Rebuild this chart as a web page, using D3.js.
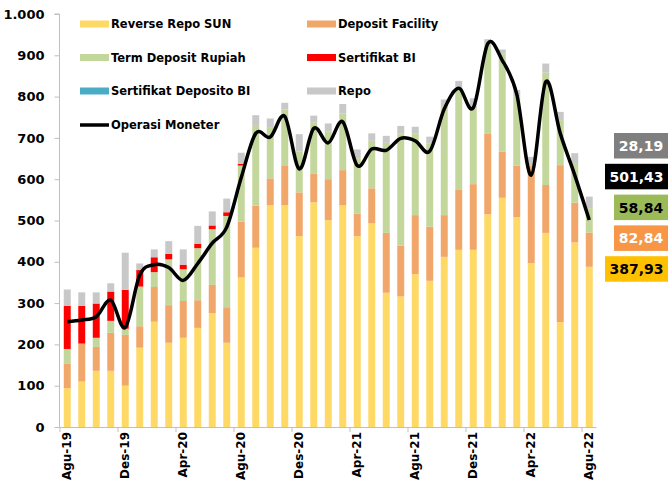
<!DOCTYPE html>
<html>
<head>
<meta charset="utf-8">
<script src="https://cdn.jsdelivr.net/npm/d3@7"></script>
<style>
  body { margin: 0; background: #fff; }
  svg text { font-family: 'DejaVu Sans', sans-serif; font-weight: bold; fill: #000; }
</style>
</head>
<body>
<svg id="chart" width="669" height="485"></svg>
<script>
// months Agu-19 .. Agu-22
const months = ['Agu-19','Sep-19','Okt-19','Nov-19','Des-19','Jan-20','Feb-20','Mar-20','Apr-20','Mei-20','Jun-20','Jul-20',
  'Agu-20','Sep-20','Okt-20','Nov-20','Des-20','Jan-21','Feb-21','Mar-21','Apr-21','Mei-21','Jun-21','Jul-21',
  'Agu-21','Sep-21','Okt-21','Nov-21','Des-21','Jan-22','Feb-22','Mar-22','Apr-22','Mei-22','Jun-22','Jul-22','Agu-22'];

const reverseRepoSUN = [94,110,136,136,100,192,255,204,216,240,276,204,362,434,537,537,462,544,501,537,462,493,325,316,
  370,354,412,429,429,515,555,508,397,470,254,447,387.93];
const depositFacility = [60,92,58,92,123,52,84,91,89,67,68,86,135,102,65,95,106,69,99,85,55,85,145,123,
  143,131,101,145,159,196,112,125,235,116,380,96,82.84];
const termDepositRupiah = [35,0,22,29,15,96,36,111,77,126,135,221,136,195,124,137,99,125,115,137,134,115,218,272,
  198,202,264,248,184,216,238,168,2,272,109,94,58.84];
const sertifikatBI = [104,91,83,71,94,40,36,13,11,11,9,9,4,0,0,0,0,0,0,0,0,0,0,0,
  0,0,0,0,0,0,0,0,0,0,0,0,0];
const sertifikatDepositoBI = [0,0,0,0,0,0,0,0,0,0,0,0,0,0,0,0,0,0,0,0,0,0,0,0,
  0,0,0,0,0,0,0,0,0,0,0,0,0];
const repo = [40,33,27,20,90,16,19,31,37,43,34,33,27,24,21,16,42,16,20,23,21,18,17,18,
  16,16,16,16,24,12,9,15,20,22,20,26,28.19];
const operasiMoneter = [255,259,267,307,241,368,393,386,355,396,445,484,604,711,702,752,625,723,688,739,633,673,670,699,
  693,668,770,820,773,928,888,806,610,836,711,610,501.43];

const yTicks = [0,100,200,300,400,500,600,700,800,900,1000];
const xTickLabels = ['Agu-19','Des-19','Apr-20','Agu-20','Des-20','Apr-21','Agu-21','Des-21','Apr-22','Agu-22'];

const series = [
  { key: 'rr', name: 'Reverse Repo SUN', values: reverseRepoSUN, color: '#ffd966' },
  { key: 'df', name: 'Deposit Facility', values: depositFacility, color: '#f1a66a' },
  { key: 'td', name: 'Term Deposit Rupiah', values: termDepositRupiah, color: '#c3d69b' },
  { key: 'sbi', name: 'Sertifikat BI', values: sertifikatBI, color: '#ff0000' },
  { key: 'sdbi', name: 'Sertifikat Deposito BI', values: sertifikatDepositoBI, color: '#4bacc6' },
  { key: 'repo', name: 'Repo', values: repo, color: '#c8c8c8' }
];

const svg = d3.select('#chart');
const plotL = 59.5, plotR = 596.5, plotT = 14, plotB = 427;

const rows = months.map((m, i) => {
  const r = { month: m };
  series.forEach(s => { r[s.key] = s.values[i]; });
  return r;
});

const x = d3.scaleBand().domain(months).range([plotL + 0.5, plotR]).paddingInner(0.52).paddingOuter(0.26);
const y = d3.scaleLinear().domain([0, 1000]).range([plotB, plotT]);
const stack = d3.stack().keys(series.map(s => s.key))(rows);
const colorOf = d3.scaleOrdinal().domain(series.map(s => s.key)).range(series.map(s => s.color));

// bars
svg.append('g').selectAll('g').data(stack).join('g')
  .attr('fill', d => colorOf(d.key))
  .selectAll('rect').data(d => d).join('rect')
  .attr('x', d => x(d.data.month))
  .attr('width', x.bandwidth())
  .attr('y', d => y(d[1]))
  .attr('height', d => Math.max(0, y(d[0]) - y(d[1])));

// y axis
const yAxis = svg.append('g').attr('transform', `translate(${plotL},0)`)
  .call(d3.axisLeft(y).tickValues(yTicks).tickSize(5).tickPadding(10)
    .tickFormat(d => d3.format(',')(d).replace(',', '.')));
yAxis.select('.domain').attr('stroke', '#bfbfbf').attr('d', `M-5,${plotT}H0V${plotB}`);
yAxis.selectAll('.tick line').attr('stroke', '#bfbfbf');
yAxis.selectAll('.tick text').style('font-size', '13px');

// x axis
const step = x.step();
const xg = svg.append('g');
xg.append('line').attr('x1', plotL).attr('x2', plotR).attr('y1', plotB + 0.5).attr('y2', plotB + 0.5)
  .attr('stroke', '#bfbfbf');
xg.selectAll('line.tk').data(xTickLabels).join('line').attr('class', 'tk')
  .attr('x1', d => x(d) - (step - x.bandwidth()) / 2)
  .attr('x2', d => x(d) - (step - x.bandwidth()) / 2)
  .attr('y1', plotB).attr('y2', plotB + 5).attr('stroke', '#bfbfbf');
xg.selectAll('text').data(xTickLabels).join('text')
  .attr('transform', d => `translate(${x(d) + x.bandwidth() / 2 + 4},${plotB + 5}) rotate(-90)`)
  .attr('text-anchor', 'end')
  .style('font-size', '12px')
  .text(d => d);

// line
const line = d3.line()
  .x((d, i) => x(months[i]) + x.bandwidth() / 2)
  .y(d => y(d))
  .curve(d3.curveCatmullRom.alpha(0));
svg.append('path').datum(operasiMoneter)
  .attr('fill', 'none').attr('stroke', '#000').attr('stroke-width', 3.5)
  .attr('stroke-linejoin', 'round').attr('d', line);

// legend
const legendItems = [
  { s: series[0], col: 0, row: 0 }, { s: series[1], col: 1, row: 0 },
  { s: series[2], col: 0, row: 1 }, { s: series[3], col: 1, row: 1 },
  { s: series[4], col: 0, row: 2 }, { s: series[5], col: 1, row: 2 }
];
const colX = [80, 307], rowY = [24, 57.5, 91, 125];
const lg = svg.append('g');
legendItems.forEach(it => {
  const gx = colX[it.col], gy = rowY[it.row];
  lg.append('rect').attr('x', gx).attr('y', gy - 3.5).attr('width', 29).attr('height', 7).attr('fill', it.s.color);
  lg.append('text').attr('x', gx + 31).attr('y', gy).attr('dy', '0.36em').style('font-size', '11.5px').text(it.s.name);
});
lg.append('line').attr('x1', colX[0]).attr('x2', colX[0] + 29).attr('y1', rowY[3]).attr('y2', rowY[3])
  .attr('stroke', '#000').attr('stroke-width', 3.5);
lg.append('text').attr('x', colX[0] + 31).attr('y', rowY[3]).attr('dy', '0.36em').style('font-size', '11.5px')
  .text('Operasi Moneter');

// latest value labels
const fmt = d3.formatLocale({ decimal: ',', thousands: '.', grouping: [3], currency: ['', ''] }).format('.2f');
const last = months.length - 1;
const valueLabels = [
  { v: repo[last], bg: '#7f7f7f', fg: '#fff' },
  { v: operasiMoneter[last], bg: '#000', fg: '#fff' },
  { v: termDepositRupiah[last], bg: '#9bbb59', fg: '#000' },
  { v: depositFacility[last], bg: '#f79646', fg: '#fff' },
  { v: reverseRepoSUN[last], bg: '#ffc000', fg: '#000' }
];
const vl = svg.append('g');
valueLabels.forEach((d, i) => {
  const t = fmt(d.v);
  const w = t.length > 5 ? 63 : 54;
  const gy = 133 + i * 30.8;
  vl.append('rect').attr('x', 668 - w).attr('y', gy).attr('width', w).attr('height', 25.5).attr('fill', d.bg);
  vl.append('text').attr('x', 668 - w / 2).attr('y', gy + 13).attr('dy', '0.36em')
    .attr('text-anchor', 'middle').style('font-size', '14px').style('fill', d.fg).text(t);
});
</script>
</body>
</html>
